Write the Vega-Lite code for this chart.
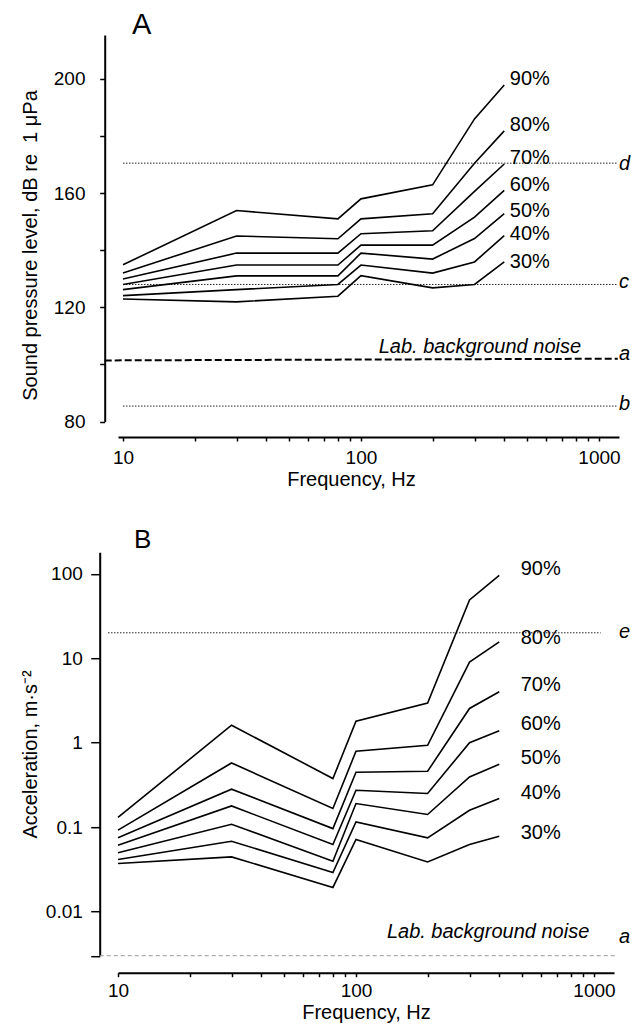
{
  "$schema": "https://vega.github.io/schema/vega-lite/v6.json",
  "background": "white",
  "padding": {"left": 20, "top": 11, "right": 2, "bottom": 2},
  "bounds": "flush",
  "spacing": 130.2,
  "config": {
    "view": {"stroke": null},
    "font": "Liberation Sans",
    "axis": {"grid": false, "domainColor": "black", "tickColor": "black", "labelColor": "black", "titleColor": "black", "labelFontSize": 19, "titleFontSize": 20, "titleFontWeight": "normal", "labelFont": "Liberation Sans", "titleFont": "Liberation Sans", "labelOverlap": false, "labelFlush": false, "labelBound": false, "domainWidth": 2, "tickWidth": 1.5},
    "title": {"color": "black", "fontWeight": "normal", "anchor": "start", "frame": "group", "font": "Liberation Sans"}
  },
  "datasets": {
    "spl": [
      {"f":10,"v":134.9,"p":"90%"},{"f":30,"v":153.9,"p":"90%"},{"f":80,"v":151.0,"p":"90%"},{"f":100,"v":158.0,"p":"90%"},{"f":200,"v":162.9,"p":"90%"},{"f":300,"v":186.0,"p":"90%"},{"f":400,"v":197.9,"p":"90%"},
      {"f":10,"v":132.0,"p":"80%"},{"f":30,"v":145.0,"p":"80%"},{"f":80,"v":144.0,"p":"80%"},{"f":100,"v":151.0,"p":"80%"},{"f":200,"v":152.8,"p":"80%"},{"f":300,"v":170.5,"p":"80%"},{"f":400,"v":181.8,"p":"80%"},
      {"f":10,"v":129.9,"p":"70%"},{"f":30,"v":139.0,"p":"70%"},{"f":80,"v":139.0,"p":"70%"},{"f":100,"v":145.8,"p":"70%"},{"f":200,"v":146.8,"p":"70%"},{"f":300,"v":160.6,"p":"70%"},{"f":400,"v":170.2,"p":"70%"},
      {"f":10,"v":128.0,"p":"60%"},{"f":30,"v":134.8,"p":"60%"},{"f":80,"v":134.8,"p":"60%"},{"f":100,"v":141.8,"p":"60%"},{"f":200,"v":141.8,"p":"60%"},{"f":300,"v":151.6,"p":"60%"},{"f":400,"v":161.0,"p":"60%"},
      {"f":10,"v":126.2,"p":"50%"},{"f":30,"v":131.0,"p":"50%"},{"f":80,"v":131.0,"p":"50%"},{"f":100,"v":139.0,"p":"50%"},{"f":200,"v":136.9,"p":"50%"},{"f":300,"v":144.1,"p":"50%"},{"f":400,"v":152.8,"p":"50%"},
      {"f":10,"v":124.1,"p":"40%"},{"f":30,"v":126.2,"p":"40%"},{"f":80,"v":128.0,"p":"40%"},{"f":100,"v":134.8,"p":"40%"},{"f":200,"v":132.0,"p":"40%"},{"f":300,"v":135.9,"p":"40%"},{"f":400,"v":145.1,"p":"40%"},
      {"f":10,"v":122.9,"p":"30%"},{"f":30,"v":121.9,"p":"30%"},{"f":80,"v":123.9,"p":"30%"},{"f":100,"v":131.1,"p":"30%"},{"f":200,"v":126.8,"p":"30%"},{"f":300,"v":128.0,"p":"30%"},{"f":400,"v":135.9,"p":"30%"}
    ],
    "splLab": [
      {"f":422,"v":200.0,"p":"90%"},{"f":422,"v":183.9,"p":"80%"},{"f":422,"v":172.4,"p":"70%"},{"f":422,"v":162.7,"p":"60%"},{"f":422,"v":153.8,"p":"50%"},{"f":422,"v":145.7,"p":"40%"},{"f":422,"v":135.8,"p":"30%"}
    ],
    "splRef": [
      {"f":10,"f2":1191,"v":170.5},{"f":10,"f2":1191,"v":128.0},{"f":10,"f2":1191,"v":85.4}
    ],
    "splNoise": [{"f":8.38,"v":101.4},{"f":1200,"v":102.0}],
    "splLet": [
      {"f":1214,"v":168.0,"k":"d"},{"f":1214,"v":126.9,"k":"c"},{"f":1214,"v":101.6,"k":"a"},{"f":1214,"v":84.0,"k":"b"}
    ],
    "splNote": [{"f":316,"v":106.0,"t":"Lab. background noise"}],
    "acc": [
      {"f":10,"v":0.130,"p":"90%"},{"f":30,"v":1.61,"p":"90%"},{"f":80,"v":0.376,"p":"90%"},{"f":100,"v":1.79,"p":"90%"},{"f":200,"v":2.95,"p":"90%"},{"f":300,"v":48.9,"p":"90%"},{"f":400,"v":95.7,"p":"90%"},
      {"f":10,"v":0.092,"p":"80%"},{"f":30,"v":0.575,"p":"80%"},{"f":80,"v":0.166,"p":"80%"},{"f":100,"v":0.79,"p":"80%"},{"f":200,"v":0.93,"p":"80%"},{"f":300,"v":9.0,"p":"80%"},{"f":400,"v":15.6,"p":"80%"},
      {"f":10,"v":0.075,"p":"70%"},{"f":30,"v":0.281,"p":"70%"},{"f":80,"v":0.096,"p":"70%"},{"f":100,"v":0.447,"p":"70%"},{"f":200,"v":0.459,"p":"70%"},{"f":300,"v":2.54,"p":"70%"},{"f":400,"v":4.0,"p":"70%"},
      {"f":10,"v":0.061,"p":"60%"},{"f":30,"v":0.178,"p":"60%"},{"f":80,"v":0.0622,"p":"60%"},{"f":100,"v":0.273,"p":"60%"},{"f":200,"v":0.25,"p":"60%"},{"f":300,"v":1.0,"p":"60%"},{"f":400,"v":1.38,"p":"60%"},
      {"f":10,"v":0.0496,"p":"50%"},{"f":30,"v":0.108,"p":"50%"},{"f":80,"v":0.0394,"p":"50%"},{"f":100,"v":0.19,"p":"50%"},{"f":200,"v":0.141,"p":"50%"},{"f":300,"v":0.393,"p":"50%"},{"f":400,"v":0.555,"p":"50%"},
      {"f":10,"v":0.0414,"p":"40%"},{"f":30,"v":0.068,"p":"40%"},{"f":80,"v":0.029,"p":"40%"},{"f":100,"v":0.115,"p":"40%"},{"f":200,"v":0.0745,"p":"40%"},{"f":300,"v":0.158,"p":"40%"},{"f":400,"v":0.218,"p":"40%"},
      {"f":10,"v":0.037,"p":"30%"},{"f":30,"v":0.0444,"p":"30%"},{"f":80,"v":0.0193,"p":"30%"},{"f":100,"v":0.0713,"p":"30%"},{"f":200,"v":0.0387,"p":"30%"},{"f":300,"v":0.0622,"p":"30%"},{"f":400,"v":0.078,"p":"30%"}
    ],
    "accLab": [
      {"f":492,"v":113,"p":"90%"},{"f":492,"v":17.2,"p":"80%"},{"f":492,"v":4.85,"p":"70%"},{"f":492,"v":1.66,"p":"60%"},{"f":492,"v":0.65,"p":"50%"},{"f":492,"v":0.256,"p":"40%"},{"f":492,"v":0.084,"p":"30%"}
    ],
    "accRef": [{"f":9.08,"f2":1067,"v":20}],
    "accNoise": [{"f":8.38,"f2":1225,"v":0.003}],
    "accLet": [{"f":1273,"v":17.3,"k":"e"},{"f":1273,"v":0.00424,"k":"a"}],
    "accNote": [{"f":359,"v":0.0057,"t":"Lab. background noise"}]
  },
  "vconcat": [
    {
      "width": 501,
      "height": 386.5,
      "title": {"text": "A", "fontSize": 29, "dx": 14, "offset": -28, "baseline": "alphabetic"},
      "encoding": {
        "x": {"field": "f", "type": "quantitative", "scale": {"type": "log", "domain": [9.53, 1214], "nice": false},
          "axis": {"offset": 15.5, "values": [10,20,30,40,50,60,70,80,90,100,200,300,400,500,600,700,800,900,1000],
            "labelExpr": "datum.value==10||datum.value==100||datum.value==1000 ? format(datum.value,'d') : ''",
            "tickSize": 4, "labelPadding": 7, "title": "Frequency, Hz", "titlePadding": 2, "titleX": 233}},
        "y": {"field": "v", "type": "quantitative", "scale": {"domain": [80, 215.4], "nice": false, "zero": false},
          "axis": {"offset": 13.3, "values": [80,100,120,140,160,180,200],
            "labelExpr": "datum.value % 40 == 0 ? format(datum.value,'d') : ''",
            "tickSize": 5, "labelPadding": 14.7, "title": "Sound pressure level, dB re\u00a0 1 μPa", "titlePadding": 13, "titleY": 210}}
      },
      "layer": [
        {"data": {"name": "splRef"}, "mark": {"type": "rule", "strokeDash": [1.5, 1.5], "strokeWidth": 1, "color": "#222"}, "encoding": {"x2": {"field": "f2"}}},
        {"data": {"name": "splNoise"}, "mark": {"type": "line", "strokeDash": [7, 3], "strokeWidth": 2, "color": "black"}, "encoding": {}},
        {"data": {"name": "spl"}, "mark": {"type": "line", "color": "black", "strokeWidth": 1.6}, "encoding": {"detail": {"field": "p"}}},
        {"data": {"name": "splLab"}, "mark": {"type": "text", "align": "left", "baseline": "middle", "fontSize": 20, "color": "black"}, "encoding": {"text": {"field": "p"}}},
        {"data": {"name": "splLet"}, "mark": {"type": "text", "align": "left", "baseline": "alphabetic", "fontSize": 20, "fontStyle": "italic", "color": "black"}, "encoding": {"text": {"field": "k"}}},
        {"data": {"name": "splNote"}, "mark": {"type": "text", "align": "center", "baseline": "middle", "fontSize": 20, "fontStyle": "italic", "color": "black"}, "encoding": {"text": {"field": "t"}}}
      ]
    },
    {
      "width": 496,
      "height": 403.5,
      "title": {"text": "B", "fontSize": 26, "dx": 16, "offset": -21.9, "baseline": "alphabetic"},
      "encoding": {
        "x": {"field": "f", "type": "quantitative", "scale": {"type": "log", "domain": [10, 1214], "nice": false},
          "axis": {"offset": 17, "values": [10,20,30,40,50,60,70,80,90,100,200,300,400,500,600,700,800,900,1000],
            "labelExpr": "datum.value==10||datum.value==100||datum.value==1000 ? format(datum.value,'d') : ''",
            "tickSize": 4, "labelPadding": 5, "title": "Frequency, Hz", "titlePadding": 2}},
        "y": {"field": "v", "type": "quantitative", "scale": {"type": "log", "domain": [0.003, 180], "nice": false},
          "axis": {"offset": 18.3, "values": [0.003, 0.01, 0.1, 1, 10, 100],
            "labelExpr": "datum.value < 0.005 ? '' : format(datum.value,'~g')",
            "tickSize": 9, "labelPadding": 8.4, "title": "Acceleration, m·s⁻²", "titlePadding": 5}}
      },
      "layer": [
        {"data": {"name": "accRef"}, "mark": {"type": "rule", "strokeDash": [1.5, 1.5], "strokeWidth": 1, "color": "#222"}, "encoding": {"x2": {"field": "f2"}}},
        {"data": {"name": "accNoise"}, "mark": {"type": "rule", "strokeDash": [4, 3], "strokeWidth": 1, "color": "#999"}, "encoding": {"x2": {"field": "f2"}}},
        {"data": {"name": "acc"}, "mark": {"type": "line", "color": "black", "strokeWidth": 1.6}, "encoding": {"detail": {"field": "p"}}},
        {"data": {"name": "accLab"}, "mark": {"type": "text", "align": "left", "baseline": "middle", "fontSize": 20, "color": "black"}, "encoding": {"text": {"field": "p"}}},
        {"data": {"name": "accLet"}, "mark": {"type": "text", "align": "left", "baseline": "alphabetic", "fontSize": 20, "fontStyle": "italic", "color": "black"}, "encoding": {"text": {"field": "k"}}},
        {"data": {"name": "accNote"}, "mark": {"type": "text", "align": "center", "baseline": "middle", "fontSize": 20, "fontStyle": "italic", "color": "black"}, "encoding": {"text": {"field": "t"}}}
      ]
    }
  ]
}
